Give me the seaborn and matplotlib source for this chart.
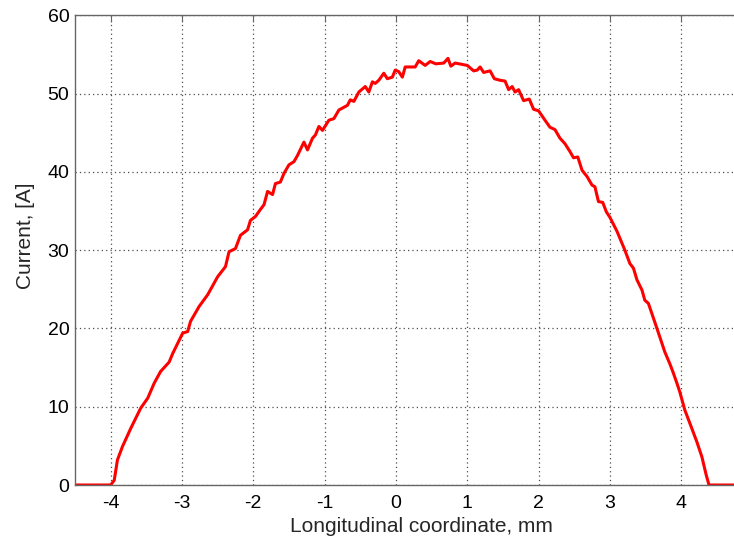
import matplotlib
matplotlib.use("Agg")
import matplotlib.pyplot as plt
import seaborn as sns
import pandas as pd

# Longitudinal current profile
coord_mm = [
    -4.50, -4.00, -3.95, -3.905, -3.835, -3.72, -3.58, -3.48, -3.39, -3.30,
    -3.18, -3.13, -2.99, -2.92, -2.88, -2.76, -2.64, -2.50, -2.39, -2.34,
    -2.25, -2.18, -2.08, -2.04, -1.97, -1.90, -1.85, -1.80, -1.73, -1.69,
    -1.62, -1.57, -1.50, -1.43, -1.38, -1.29, -1.24, -1.17, -1.13, -1.08,
    -1.03, -0.94, -0.87, -0.80, -0.68, -0.64, -0.59, -0.52, -0.43, -0.38,
    -0.33, -0.29, -0.24, -0.17, -0.12, -0.05, -0.01, 0.04, 0.09, 0.13,
    0.27, 0.32, 0.41, 0.48, 0.56, 0.67, 0.73, 0.77, 0.83, 1.00,
    1.09, 1.14, 1.18, 1.23, 1.32, 1.38, 1.46, 1.53, 1.58, 1.63,
    1.67, 1.72, 1.79, 1.87, 1.93, 2.00, 2.09, 2.16, 2.23, 2.30,
    2.37, 2.44, 2.49, 2.55, 2.61, 2.68, 2.75, 2.79, 2.84, 2.90,
    2.95, 3.00, 3.10, 3.21, 3.28, 3.33, 3.38, 3.45, 3.49, 3.54,
    3.66, 3.77, 3.84, 3.89, 3.94, 3.98, 4.05, 4.15, 4.22, 4.29,
    4.35, 4.39, 5.50,
]
current_a = [
    0.0, 0.0, 0.6, 3.2, 4.9, 7.2, 9.8, 11.1, 13.0, 14.5,
    15.7, 16.8, 19.4, 19.6, 20.9, 22.8, 24.3, 26.6, 27.9, 29.8,
    30.2, 31.9, 32.6, 33.8, 34.3, 35.2, 35.8, 37.5, 37.1, 38.5,
    38.7, 39.8, 40.9, 41.3, 42.1, 43.8, 42.8, 44.3, 44.7, 45.8,
    45.3, 46.6, 46.8, 47.9, 48.5, 49.2, 49.0, 50.2, 50.9, 50.2,
    51.5, 51.3, 51.7, 52.6, 51.9, 52.1, 53.0, 52.8, 52.1, 53.4,
    53.4, 54.2, 53.6, 54.1, 53.8, 53.9, 54.5, 53.5, 53.9, 53.6,
    52.9, 53.0, 53.4, 52.7, 52.9, 51.9, 51.7, 51.6, 50.5, 50.9,
    50.2, 50.5, 49.1, 49.3, 48.0, 47.8, 46.6, 45.7, 45.4, 44.3,
    43.6, 42.6, 41.8, 41.9, 40.2, 39.4, 38.3, 38.1, 36.2, 36.1,
    34.9, 34.2, 32.4, 30.0, 28.3, 27.7, 26.2, 24.9, 23.6, 23.2,
    20.0, 17.0, 15.5, 14.3, 13.0, 11.9, 9.6, 7.2, 5.5, 3.6,
    1.3, 0.0, 0.0,
]
x_ticks = [-4, -3, -2, -1, 0, 1, 2, 3, 4]
y_ticks = [0, 10, 20, 30, 40, 50, 60]

df = pd.DataFrame({"coord": coord_mm, "current": current_a})

sns.set_style("white")
plt.rcParams["font.family"] = ["Liberation Sans", "DejaVu Sans"]

W, H = 734, 543
fig = plt.figure(figsize=(W / 100, H / 100), dpi=100)
# axes box runs past the right edge of the canvas
left, right, top, bottom = 75, 768, 15.3, 485
ax = fig.add_axes([left / W, (H - bottom) / H, (right - left) / W, (bottom - top) / H])

sns.lineplot(data=df, x="coord", y="current", ax=ax, color="#ff0000",
             linewidth=2.2, sort=False, estimator=None)

ax.set_xlim(-4.5, (right - 395.5) / 71.4)
ax.set_ylim(0, 60)
ax.set_xticks(x_ticks)
ax.set_xticklabels([str(t) for t in x_ticks])
ax.set_yticks(y_ticks)

ax.grid(True, color="0.3", linestyle=(0, (1, 2.5)), linewidth=0.9)
for s in ax.spines.values():
    s.set_color("0.4")
    s.set_linewidth(1.0)

ax.tick_params(axis="both", direction="in", length=5, width=0.8, color="0.4",
               labelsize=14, labelcolor="black", top=True, right=True)
ax.tick_params(axis="x", pad=7)
ax.tick_params(axis="y", pad=4)

ax.set_xlabel("Longitudinal coordinate, mm", fontsize=15, labelpad=4)
ax.set_ylabel("Current, [A]", fontsize=15)
ax.yaxis.set_label_coords(-0.057, 0.53)

fig.savefig("out.png", dpi=100)
